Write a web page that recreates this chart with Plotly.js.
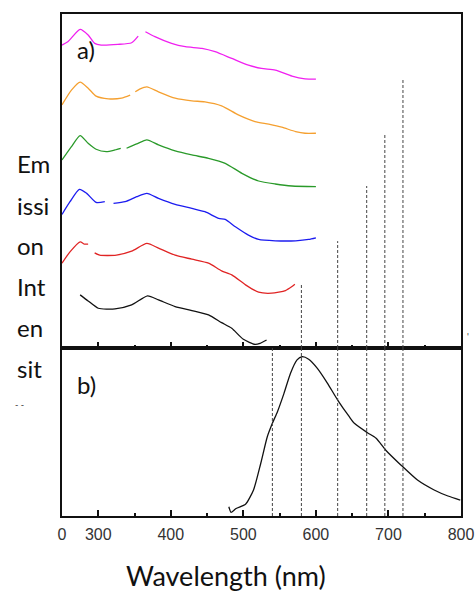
<!DOCTYPE html>
<html><head><meta charset="utf-8">
<script src="https://cdn.plot.ly/plotly-3.0.1.min.js"></script>
<style>html,body{margin:0;padding:0;background:#fff}#chart{width:475px;height:591px}</style>
</head><body><div id="chart"></div>
<script>
// ---- data (wavelength in nm, intensity in a.u., top panel curves stacked) ----
const magentaX = [250,258,275,286,295,304,327,346,355,null,365,378,401,420,443,461,484,507,525,544,567,585,600];
const magentaY = [90.7,91.7,95.4,93.7,91.2,90.7,90.9,91.4,93.4,null,94.7,93.2,91.2,90.2,89.7,88.7,86.7,84.7,83.7,83.2,81.4,80.6,80.5];
const orangeX = [250,263,275,286,297,314,332,344,null,351,357,367,383,406,429,447,470,493,516,535,553,572,585,600];
const orangeY = [72.8,77.2,79.6,77.8,75.4,74.6,74.8,75.7,null,76.7,77.5,78.2,76.7,74.8,74.0,73.7,72.5,69.8,67.8,67.0,66.1,64.8,64.3,64.3];
const greenX = [250,263,275,286,297,311,323,331,null,339,353,367,383,406,429,452,475,498,521,544,567,600];
const greenY = [56.3,60.3,63.6,61.3,59.5,58.8,59.3,59.8,null,59.8,61.1,62.3,60.8,59.0,57.8,56.8,55.3,52.3,50.0,49.1,48.5,48.3];
const blueX = [250,261,274,284,297,309,null,321,337,353,367,383,406,429,447,466,475,489,507,521,544,572,590,600];
const blueY = [40.0,43.8,47.5,46.3,43.6,43.8,null,43.3,43.8,45.3,46.3,44.8,43.0,41.8,40.8,38.8,38.5,36.3,33.8,32.5,32.1,32.1,32.5,33.0];
const redX = [250,261,275,281,286,null,295,302,325,346,367,383,406,429,452,470,484,503,521,539,558,567,571];
const redY = [25.4,28.8,31.8,31.1,31.1,null,28.5,27.8,27.8,29.0,31.3,29.9,27.8,26.6,25.4,23.1,21.9,18.9,16.7,16.4,17.2,18.4,19.1];
const blackX = [275,286,300,323,346,368,383,406,429,452,470,484,500,516,523,532];
const blackY = [15.9,14.1,11.9,11.7,12.9,15.6,14.4,12.4,11.2,9.9,7.6,5.9,2.6,1.1,1.4,2.4];
const emissionX = [480,483,490,503,514,524,533,540,547,556,565,574,581,590,602,616,630,646,653,671,683,696,717,740,763,782,799];
const emissionY = [5.5,2.2,4.5,7.0,15.5,31.4,47.2,55.2,62.1,73.0,85.0,92.9,94.8,93.3,87.9,79.0,69.0,59.1,55.2,49.6,46.3,39.3,30.4,21.4,15.5,11.9,9.5];
const monitorWl = [540,580,630,670,695,720];
const monitorLevel = [0,18.9,32.0,48.5,64.1,80.8];
const tickVals = [250,300,400,500,600,700,800];
const tickText = ['0','300','400','500','600','700','800'];
const minorVals = [350,450,550,650,750];
const yLabelParts = ['Em','issi','on','Int','en','sit'];

// ---- layout helpers (pixel -> paper) ----
const W = 475, H = 591, L = 62, R = 14, T = 14, B = 75;
const pw = W - L - R, ph = H - T - B;
const px = x => (x - L) / pw;
const py = y => (H - B - y) / ph;
const split = py(348);

const series = [
  [magentaX, magentaY, '#f020f0'],
  [orangeX, orangeY, '#f5a030'],
  [greenX, greenY, '#2a9a2a'],
  [blueX, blueY, '#1c1cf0'],
  [redX, redY, '#e02424'],
  [blackX, blackY, '#111111']
];
const traces = series.map(s => ({
  x: s[0], y: s[1], xaxis: 'x2', yaxis: 'y2', type: 'scatter', mode: 'lines',
  connectgaps: false, line: {color: s[2], width: 1.3, shape: 'spline', smoothing: 0.6},
  hoverinfo: 'skip'
}));
traces.push({x: emissionX, y: emissionY, xaxis: 'x', yaxis: 'y', type: 'scatter', mode: 'lines',
  line: {color: '#111', width: 1.3, shape: 'spline', smoothing: 0.6}, hoverinfo: 'skip'});

const shapes = [];
monitorWl.forEach((wl, i) => {
  shapes.push({type: 'line', xref: 'x', yref: 'y domain', x0: wl, x1: wl, y0: 0, y1: 1,
    line: {color: '#444', width: 1, dash: '3px,2px'}});
  shapes.push({type: 'line', xref: 'x2', yref: 'y2', x0: wl, x1: wl, y0: 0, y1: monitorLevel[i],
    line: {color: '#444', width: 1, dash: '3px,2px'}});
});

const bigFont = {family: 'Lato, "Open Sans", sans-serif', size: 24, color: '#111'};
const baselines = [171.7, 213.3, 253.3, 294.3, 335, 376];
const annotations = yLabelParts.map((t, i) => ({
  text: t, xref: 'paper', yref: 'paper', x: px(15), y: py(baselines[i] - 8),
  xanchor: 'left', yanchor: 'middle', showarrow: false, font: bigFont
}));
annotations.push({text: 'a)', xref: 'paper', yref: 'paper', x: px(75), y: py(49), xanchor: 'left', yanchor: 'middle', showarrow: false, font: bigFont});
annotations.push({text: 'b)', xref: 'paper', yref: 'paper', x: px(75), y: py(384), xanchor: 'left', yanchor: 'middle', showarrow: false, font: bigFont});
annotations.push({text: 'Wavelength (nm)', xref: 'paper', yref: 'paper', x: px(225.7), y: py(575), xanchor: 'center', yanchor: 'middle', showarrow: false,
  font: {family: 'Lato, "Open Sans", sans-serif', size: 27, color: '#111'}});
annotations.push({text: '- -', xref: 'paper', yref: 'paper', x: px(13), y: py(404), xanchor: 'left', yanchor: 'middle', showarrow: false, font: {family: 'Lato', size: 9, color: '#333'}});
annotations.push({text: "'", xref: 'paper', yref: 'paper', x: px(468), y: py(336), xanchor: 'center', yanchor: 'middle', showarrow: false, font: {family: 'Lato', size: 9, color: '#333'}});

const axisLine = {showline: true, linecolor: '#111', linewidth: 2, mirror: true, zeroline: false, showgrid: false};
const xBase = Object.assign({}, axisLine, {
  range: [250, 800], tickmode: 'array', tickvals: tickVals, ticktext: tickText,
  ticks: 'inside', ticklen: 6, tickwidth: 2, tickcolor: '#111',
  minor: {tickmode: 'array', tickvals: minorVals, ticks: 'inside', ticklen: 3, tickwidth: 2, tickcolor: '#111'}
});
const layout = {
  width: W, height: H, margin: {l: L, r: R, t: T, b: B, pad: 0},
  paper_bgcolor: '#fff', plot_bgcolor: '#fff', showlegend: false,
  xaxis: Object.assign({}, xBase, {anchor: 'y', domain: [0, 1], ticklabelstandoff: 3,
    tickfont: {family: '"Liberation Sans", Arial, sans-serif', size: 16, color: '#333'}}),
  yaxis: Object.assign({}, axisLine, {domain: [0, split], range: [0, 100], showticklabels: false, ticks: ''}),
  xaxis2: Object.assign({}, xBase, {anchor: 'y2', matches: 'x', showticklabels: false}),
  yaxis2: Object.assign({}, axisLine, {domain: [split, 1], range: [0, 100], showticklabels: false, ticks: ''}),
  shapes: shapes, annotations: annotations
};
Plotly.newPlot('chart', traces, layout, {staticPlot: true, displayModeBar: false});
</script>
</body></html>
